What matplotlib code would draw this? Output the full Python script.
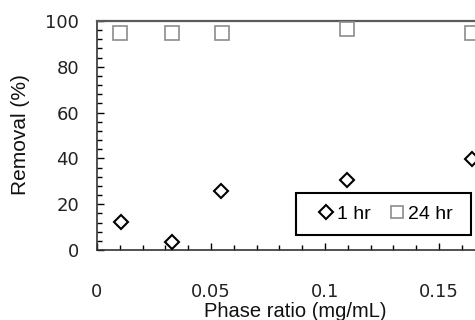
import matplotlib
matplotlib.use("Agg")
import matplotlib.pyplot as plt
from matplotlib.ticker import MultipleLocator
from matplotlib.lines import Line2D
from matplotlib.patches import Rectangle

x_1hr = [0.0105, 0.0328, 0.0544, 0.1095, 0.1645]
y_1hr = [12.4, 3.5, 25.8, 30.6, 39.7]
x_24hr = [0.0103, 0.0330, 0.0547, 0.1095, 0.1644]
y_24hr = [94.7, 94.7, 94.7, 96.5, 94.7]
xticks = [0, 0.05, 0.1, 0.15]
xticklabels = ["0", "0.05", "0.1", "0.15"]
yticks = [0, 20, 40, 60, 80, 100]
series_labels = ["1 hr", "24 hr"]

W, H = 475, 320
fig = plt.figure(figsize=(W / 100, H / 100), dpi=100)
x0, ybot, ytop = 97, 250, 21
xmax = 0.2
ax = fig.add_axes([x0 / W, (H - ybot) / H, (xmax / 0.01 * 22.8) / W, (ybot - ytop) / H])
ax.set_xlim(0, xmax)
ax.set_ylim(0, 100)

sq_style = dict(linestyle="none", marker="s", markerfacecolor="white",
                markeredgecolor="#8c8c8c", markeredgewidth=1.2)
di_style = dict(linestyle="none", marker="D", markerfacecolor="white",
                markeredgecolor="black", markeredgewidth=1.5)

ax.plot(x_24hr, y_24hr, markersize=10.5, clip_on=False, zorder=3, **sq_style)
ax.plot(x_1hr, y_1hr, markersize=7, clip_on=False, zorder=3, **di_style)

ax.set_xticks(xticks)
ax.set_xticklabels(xticklabels)
ax.set_yticks(yticks)
ax.xaxis.set_minor_locator(MultipleLocator(0.01))
ax.yaxis.set_minor_locator(MultipleLocator(4))

ax.tick_params(axis="x", which="major", direction="in", length=5, width=1,
               pad=23.5, labelsize=13, colors="black")
ax.tick_params(axis="x", which="minor", direction="in", length=3.5, width=1)
ax.tick_params(axis="y", which="major", direction="in", length=5, width=1,
               pad=13, labelsize=13)
ax.tick_params(axis="y", which="minor", direction="in", length=3.5, width=1)
for lab in ax.get_xticklabels() + ax.get_yticklabels():
    lab.set_fontfamily("DejaVu Sans")
    lab.set_color("#222222")

ax.spines["top"].set_color("#5a5a5a")
ax.spines["top"].set_linewidth(1.6)
ax.spines["left"].set_color("#333333")
ax.spines["left"].set_linewidth(1.2)
ax.spines["bottom"].set_color("#333333")
ax.spines["bottom"].set_linewidth(1.2)
ax.spines["right"].set_visible(False)

fig.text(295 / W, 1 - 311.5 / H, "Phase ratio (mg/mL)", ha="center", va="center",
         fontsize=14.5, family="Liberation Sans", color="#111111")
fig.text(21 / W, 1 - 135 / H, "Removal (%)", ha="center", va="center",
         rotation=90, fontsize=15, family="Liberation Sans", color="#111111")

# legend frame and entries
fig.patches.append(Rectangle((296 / W, 1 - 235 / H), 175 / W, 42 / H,
                             transform=fig.transFigure, facecolor="white",
                             edgecolor="black", linewidth=1.5, zorder=4))
h1 = Line2D([], [], markersize=7, **di_style)
h2 = Line2D([], [], markersize=9, **sq_style)
leg = fig.legend([h1, h2], series_labels,
                 loc="center", bbox_to_anchor=(386 / W, 1 - 214 / H),
                 ncol=2, frameon=False,
                 prop={"family": "Liberation Sans", "size": 14},
                 handlelength=0.7, handletextpad=0.2, columnspacing=1.0,
                 borderpad=0.3)
leg.set_zorder(5)

fig.savefig("out.png", dpi=100)
